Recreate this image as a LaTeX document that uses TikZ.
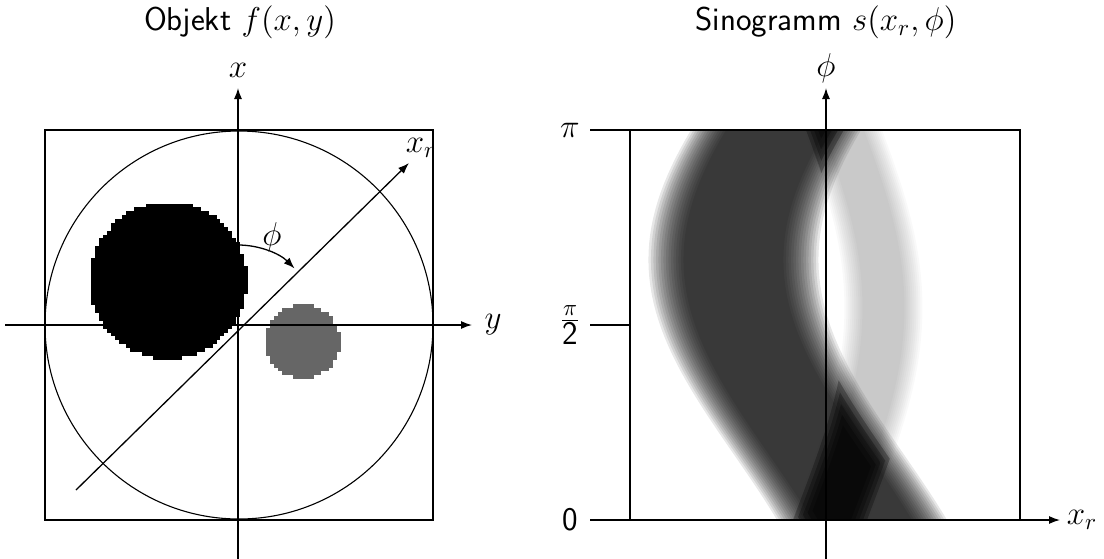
\RequirePackage{fix-cm}
\documentclass[tikz,border=0pt]{standalone}
\usetikzlibrary{arrows.meta}
\begin{document}
\begin{tikzpicture}[x=0.5pt,y=-0.5pt,
  font=\fontsize{16.5}{20}\selectfont\sffamily,
  ln/.style={line width=0.65pt},
  axis/.style={line width=0.65pt,-{Latex[length=5.5pt,width=4pt]}},
  lbl/.style={inner sep=0pt},
  bandb/.style={fill=black,fill opacity=0.096},
  bandg/.style={fill=black,fill opacity=0.0245},
  bando/.style={fill=black,fill opacity=0.28}]
\useasboundingbox (0,0) rectangle (1104,558);
% ---------------- left panel ----------------
\def\pix{3.88}
% black disc (pixelated)
\foreach \j in {19,...,58}{
  \pgfmathsetmacro{\yc}{130+(\j+0.5)*\pix}
  \pgfmathsetmacro{\w}{sqrt(max(0,78*78-(\yc-280)*(\yc-280)))}
  \pgfmathtruncatemacro{\cl}{ceil((168-\w-45)/\pix-0.5)}
  \pgfmathtruncatemacro{\cr}{floor((168+\w-45)/\pix-0.5)}
  \fill[black,draw=black,line width=0.15pt] ({45+\cl*\pix},{130+\j*\pix}) rectangle ({45+(\cr+1)*\pix},{130+(\j+1)*\pix});
}
% grey disc (pixelated)
\foreach \j in {45,...,63}{
  \pgfmathsetmacro{\yc}{130+(\j+0.5)*\pix}
  \pgfmathsetmacro{\w}{sqrt(max(0,36.5*36.5-(\yc-341.5)*(\yc-341.5)))}
  \pgfmathtruncatemacro{\cl}{ceil((302.5-\w-45)/\pix-0.5)}
  \pgfmathtruncatemacro{\cr}{floor((302.5+\w-45)/\pix-0.5)}
  \fill[black!60,draw=black!60,line width=0.15pt] ({45+\cl*\pix},{130+\j*\pix}) rectangle ({45+(\cr+1)*\pix},{130+(\j+1)*\pix});
}
\draw[ln] (45,130) rectangle (433,520);
\draw[line width=0.55pt] (239,325) circle[radius=194];
\coordinate (o) at (238,325);
\coordinate (xb) at (238,560); \coordinate (xt) at (238,88);
\coordinate (yl) at (5,325);  \coordinate (yr) at (472,325);
\coordinate (rb) at (76,490); \coordinate (rt) at (409,163);
\draw[axis] (xb) -- (xt);
\draw[axis] (yl) -- (yr);
\draw[axis] (rb) -- (rt);
\node[lbl] (lx) at (238,70) {$x$};
\node[lbl] (ly) at (493,325) {$y$};
\node[lbl] (lxr) at (421,148) {$x_r$};
\draw[line width=0.65pt,-{Latex[length=5.5pt,width=4pt]}] (238,245) arc[start angle=-90,end angle=-45,radius=80];
\node[lbl] (lphi) at (272,237) {$\phi$};
\node[lbl] (t1) at (240,22) {Objekt $f(x,y)$};
% ---------------- right panel ----------------
\begin{scope}
\clip (630,130) rectangle (1020,520);
\foreach \w in {85,82.5,...,50}{
  \fill[bandb] plot[domain=-3:183,samples=48,variable=\t] ({819+43*cos(\t)-74*sin(\t)-\w},{520-2.16667*\t})
    -- plot[domain=183:-3,samples=48,variable=\t] ({819+43*cos(\t)-74*sin(\t)+\w},{520-2.16667*\t}) -- cycle;
}
\foreach \w in {39,37,...,21}{
  \fill[bandg] plot[domain=-3:183,samples=48,variable=\t] ({836.5-6.5*cos(\t)+46.5*sin(\t)-\w},{520-2.16667*\t})
    -- plot[domain=183:-3,samples=48,variable=\t] ({836.5-6.5*cos(\t)+46.5*sin(\t)+\w},{520-2.16667*\t}) -- cycle;
}
\foreach \bw/\gw in {68/37,62/33,56/29,50/25,44/21}{
\begin{scope}
\clip plot[domain=-3:183,samples=48,variable=\t] ({819+43*cos(\t)-74*sin(\t)-\bw},{520-2.16667*\t})
    -- plot[domain=183:-3,samples=48,variable=\t] ({819+43*cos(\t)-74*sin(\t)+\bw},{520-2.16667*\t}) -- cycle;
\fill[bando] plot[domain=-3:183,samples=48,variable=\t] ({836.5-6.5*cos(\t)+46.5*sin(\t)-\gw},{520-2.16667*\t})
    -- plot[domain=183:-3,samples=48,variable=\t] ({836.5-6.5*cos(\t)+46.5*sin(\t)+\gw},{520-2.16667*\t}) -- cycle;
\end{scope}
}
\end{scope}
\draw[ln] (630,130) rectangle (1020,520);
\coordinate (pb) at (826,560); \coordinate (pt) at (826,88);
\coordinate (sl) at (590,520); \coordinate (sr) at (1060,520);
\draw[axis] (pb) -- (pt);
\draw[axis] (sl) -- (sr);
\coordinate (k1a) at (590,130); \coordinate (k1b) at (630,130);
\coordinate (k2a) at (590,325); \coordinate (k2b) at (630,325);
\draw[ln] (k1a) -- (k1b);
\draw[ln] (k2a) -- (k2b);
\node[lbl] (lpi) at (570,130) {$\pi$};
\node[lbl] (lpi2) at (570,325) {$\frac{\pi}{\textsf{2}}$};
\node[lbl] (l0) at (570,520) {0};
\node[lbl] (lphi2) at (826,68) {$\phi$};
\node[lbl] (lxr2) at (1082,520) {$x_r$};
\node[lbl] (t2) at (826,22) {Sinogramm $s(x_r,\phi)$};
\end{tikzpicture}
\end{document}
